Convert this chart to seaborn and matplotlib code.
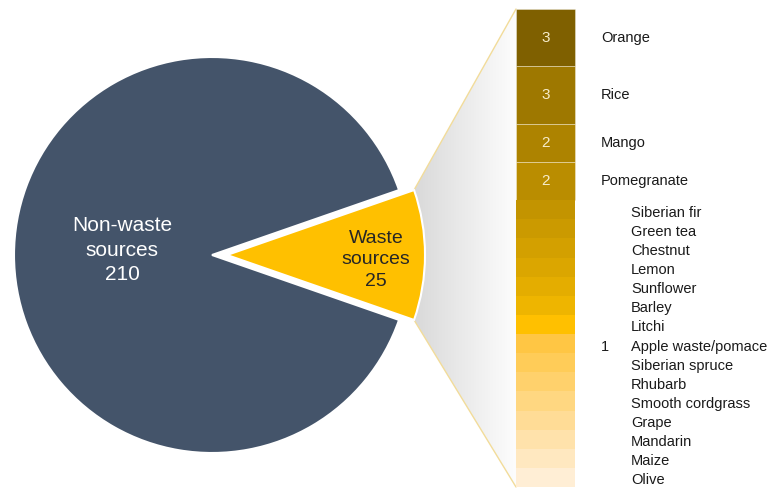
import numpy as np
import matplotlib
matplotlib.use("Agg")
import matplotlib.pyplot as plt
from matplotlib.patches import Polygon
import seaborn as sns

# ---------------- data ----------------
pie_labels = ["Waste\nsources", "Non-waste\nsources"]
pie_values = [25, 210]
pie_colors = ["#FFC000", "#44546A"]

crops = ["Orange", "Rice", "Mango", "Pomegranate",
         "Siberian fir", "Green tea", "Chestnut", "Lemon", "Sunflower",
         "Barley", "Litchi", "Apple waste/pomace", "Siberian spruce",
         "Rhubarb", "Smooth cordgrass", "Grape", "Mandarin", "Maize", "Olive"]
counts = [3, 3, 2, 2] + [1] * 15
crop_colors = ["#7F6000", "#9E7800", "#AD8300", "#BA8D00",
               "#C39400", "#CB9A00", "#D3A000", "#DBA600", "#E4AD00",
               "#EEB500", "#FFC000", "#FFC644", "#FFCC58", "#FFD16C",
               "#FFD781", "#FFDC96", "#FFE2AB", "#FFE8C0", "#FFEED5"]

# ---------------- layout ----------------
W, H = 781, 488
sns.set_theme(style="white")
plt.rcParams["font.family"] = ["Liberation Sans", "DejaVu Sans"]

fig = plt.figure(figsize=(W / 100, H / 100), dpi=100)
ax = fig.add_axes([0, 0, 1, 1])

pie_center = (212, 255)
pie_r = 198
explode_px = 15
half = 180 * pie_values[0] / sum(pie_values)

wedges, _ = ax.pie(pie_values, colors=pie_colors, startangle=-half,
                   explode=[explode_px, 0], center=pie_center,
                   radius=pie_r, counterclock=True,
                   wedgeprops=dict(linewidth=1.5, edgecolor="white", zorder=3))

# bar geometry
bar_left, bar_right = 516, 575
bar_top, bar_bottom = 9, 487
unit = (bar_bottom - bar_top) / sum(counts)
cum = np.concatenate([[0], np.cumsum(counts)[:-1]])
edge_cols = [(1, 1, 1, 0.35) if c > 1 else (1, 1, 1, 0.0) for c in counts]
ax.bar(x=(bar_left + bar_right) / 2, height=np.array(counts) * unit,
       bottom=bar_top + cum * unit, width=bar_right - bar_left,
       color=crop_colors, edgecolor=edge_cols, linewidth=0.7, zorder=3)

# connector region (gradient) between waste wedge and bar
w = wedges[0]
cx, cy = w.center
t = np.radians(np.linspace(w.theta1, w.theta2, 60))
arc = np.column_stack([cx + w.r * np.cos(t), cy + w.r * np.sin(t)])
p_top = arc[np.argmin(arc[:, 1])]
p_bot = arc[np.argmax(arc[:, 1])]
poly_pts = np.vstack([arc, [[bar_left, bar_bottom], [bar_left, bar_top]]])
poly = Polygon(poly_pts, closed=True, facecolor="none", edgecolor="none")
ax.add_patch(poly)
x0 = arc[:, 0].min()
grad = np.linspace(0.85, 0.99, 256).reshape(1, -1)
img = ax.imshow(grad, cmap="gray", vmin=0, vmax=1, aspect="auto",
                extent=[x0, bar_left, bar_bottom, bar_top], zorder=1,
                interpolation="bicubic")
img.set_clip_path(poly)

line_col = "#F2DC9A"
ax.plot([p_top[0], bar_left], [p_top[1], bar_top], color=line_col, lw=1.0, zorder=2)
ax.plot([p_bot[0], bar_left], [p_bot[1], bar_bottom], color=line_col, lw=1.0, zorder=2)

# pie labels
ax.text(122, 250, f"{pie_labels[1]}\n{pie_values[1]}", color="white",
        fontsize=15, ha="center", va="center", linespacing=1.35, zorder=5)
ax.text(376, 260, f"{pie_labels[0]}\n{pie_values[0]}", color="#262626",
        fontsize=14, ha="center", va="center", linespacing=1.35, zorder=5)

# bar labels
bx = (bar_left + bar_right) / 2
for i, (name, c) in enumerate(zip(crops, counts)):
    yc = bar_top + (cum[i] + c / 2) * unit
    if c > 1:
        ax.text(bx, yc, str(c), color="#F6ECCB", fontsize=11,
                ha="center", va="center", zorder=5)
        ax.text(601, yc, name, color="#1A1A1A", fontsize=10.5,
                ha="left", va="center", zorder=5)
    else:
        ax.text(631, yc + 3, name, color="#1A1A1A", fontsize=10.5,
                ha="left", va="center", zorder=5)
ones_idx = [i for i, c in enumerate(counts) if c == 1]
mid = ones_idx[len(ones_idx) // 2]
ax.text(605, bar_top + (cum[mid] + 0.5) * unit + 3, "1", color="#1A1A1A",
        fontsize=10.5, ha="center", va="center", zorder=5)

ax.set_xlim(0, W)
ax.set_ylim(H, 0)
ax.set_aspect("equal")
ax.axis("off")
fig.savefig("out.png", dpi=100)
